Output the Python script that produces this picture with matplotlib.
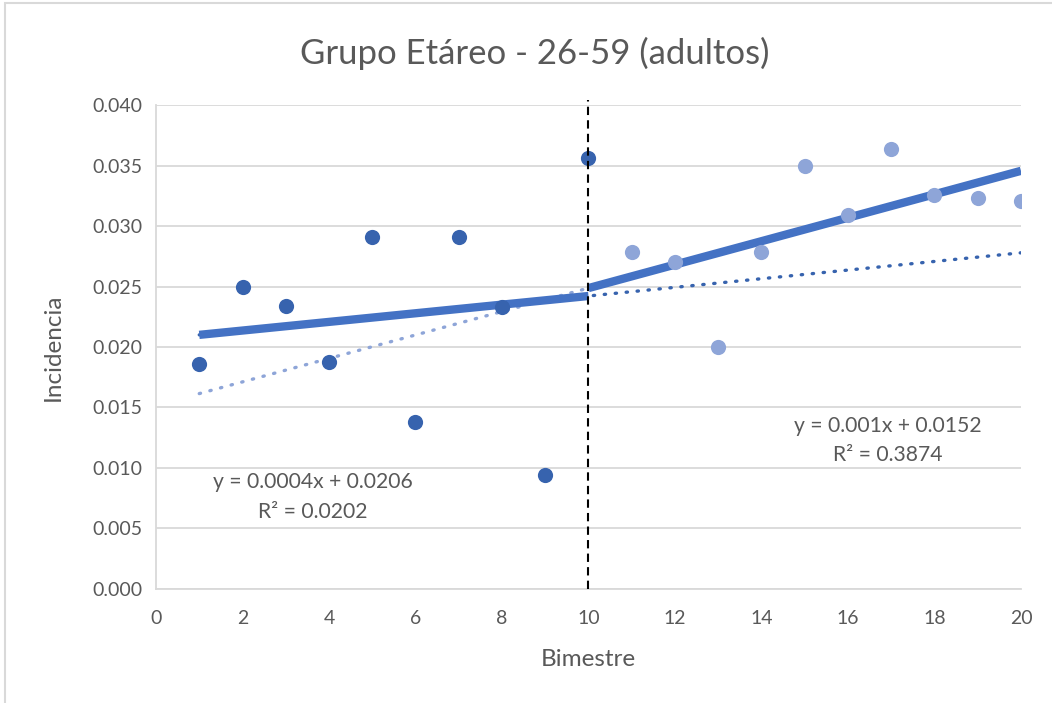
import numpy as np
import matplotlib
matplotlib.use("Agg")
import matplotlib.pyplot as plt
from matplotlib.patches import Rectangle
from matplotlib.ticker import FormatStrFormatter

plt.rcParams['font.family'] = ['Lato', 'DejaVu Sans']

# Incidence per bimester, before and after the cut at bimester 10
bimestre_a = [1, 2, 3, 4, 5, 6, 7, 8, 9, 10]
incidencia_a = [0.0186, 0.0250, 0.0234, 0.0188, 0.0291, 0.0138, 0.0291, 0.0233, 0.0094, 0.0356]
bimestre_b = [11, 12, 13, 14, 15, 16, 17, 18, 19, 20]
incidencia_b = [0.02785, 0.0270, 0.0200, 0.02785, 0.0350, 0.0309, 0.0364, 0.0326, 0.0323, 0.0321]

eq_a = ["y = 0.0004x + 0.0206", "R² = 0.0202"]
eq_b = ["y = 0.001x + 0.0152", "R² = 0.3874"]

title = "Grupo Etáreo - 26-59 (adultos)"
xlabel = "Bimestre"
ylabel = "Incidencia"

dark = "#3763AE"
light = "#8EA5D8"
thick = "#4472C4"
text_col = "#595959"
grid_col = "#D9D9D9"

fig = plt.figure(figsize=(10.52, 7.03), dpi=100)
ax = fig.add_axes([0.1483, 0.1622, 0.8222, 0.6884])

# outer chart-area border
fig.patches.append(Rectangle((5 / 1052, -0.1), 1.2, 1 - 3 / 703 + 0.1,
                             transform=fig.transFigure, fill=False,
                             edgecolor="#D9D9D9", linewidth=1.5))

# linear fits for each period
pa = np.polyfit(bimestre_a, incidencia_a, 1)
pb = np.polyfit(bimestre_b, incidencia_b, 1)
x_full = np.array([1, 20])

# dotted trend lines extended over the full range
ax.plot(x_full, np.polyval(pb, x_full), color=light, lw=2.4, ls=(0, (0.4, 2.9)),
        dash_capstyle="round", zorder=2)
ax.plot(x_full, np.polyval(pa, x_full), color=dark, lw=2.4, ls=(0, (0.4, 2.9)),
        dash_capstyle="round", zorder=2)

# thick segmented trend
xa = np.array([bimestre_a[0], bimestre_a[-1]])
xb = np.array([bimestre_a[-1], bimestre_b[-1]])
ax.plot(xa, np.polyval(pa, xa), color=thick, lw=6, solid_capstyle="butt", zorder=3)
ax.plot(xb, np.polyval(pb, xb), color=thick, lw=6, solid_capstyle="butt", zorder=3)

# points
ax.scatter(bimestre_a, incidencia_a, s=120, color=dark, zorder=4, linewidths=0)
ax.scatter(bimestre_b, incidencia_b, s=120, color=light, zorder=4, linewidths=0)

# cut line
ax.plot([10, 10], [0, 0.0404], color="black", lw=1.5, ls=(0, (4, 2.5)),
        clip_on=False, zorder=5)

ax.set_xlim(0, 20)
ax.set_ylim(0, 0.040)
ax.set_xticks(np.arange(0, 21, 2))
ax.set_yticks(np.arange(0, 0.0401, 0.005))
ax.yaxis.set_major_formatter(FormatStrFormatter("%.3f"))
ax.tick_params(length=0, labelsize=14, labelcolor=text_col, pad=10)
ax.tick_params(axis="x", pad=15)
ax.grid(axis="y", color=grid_col, lw=1.3)
ax.set_axisbelow(True)
for s in ("top", "right"):
    ax.spines[s].set_visible(False)
for s in ("left", "bottom"):
    ax.spines[s].set_color(grid_col)
    ax.spines[s].set_linewidth(1.3)

ax.set_xlabel(xlabel, fontsize=17.5, color=text_col, labelpad=16)
ax.set_ylabel(ylabel, fontsize=17.5, color=text_col, labelpad=20)
fig.text(0.508, 1 - 53 / 703, title, fontsize=25, color=text_col,
         ha="center", va="center")

ax.text(313 / 1052, 1 - 482 / 703, eq_a[0], transform=fig.transFigure,
        fontsize=15.2, color=text_col, ha="center", va="center")
ax.text(313 / 1052, 1 - 512 / 703, eq_a[1], transform=fig.transFigure,
        fontsize=15.2, color=text_col, ha="center", va="center")
ax.text(888 / 1052, 1 - 426 / 703, eq_b[0], transform=fig.transFigure,
        fontsize=15.2, color=text_col, ha="center", va="center")
ax.text(888 / 1052, 1 - 455 / 703, eq_b[1], transform=fig.transFigure,
        fontsize=15.2, color=text_col, ha="center", va="center")

fig.savefig("out.png", dpi=100, facecolor="white")
